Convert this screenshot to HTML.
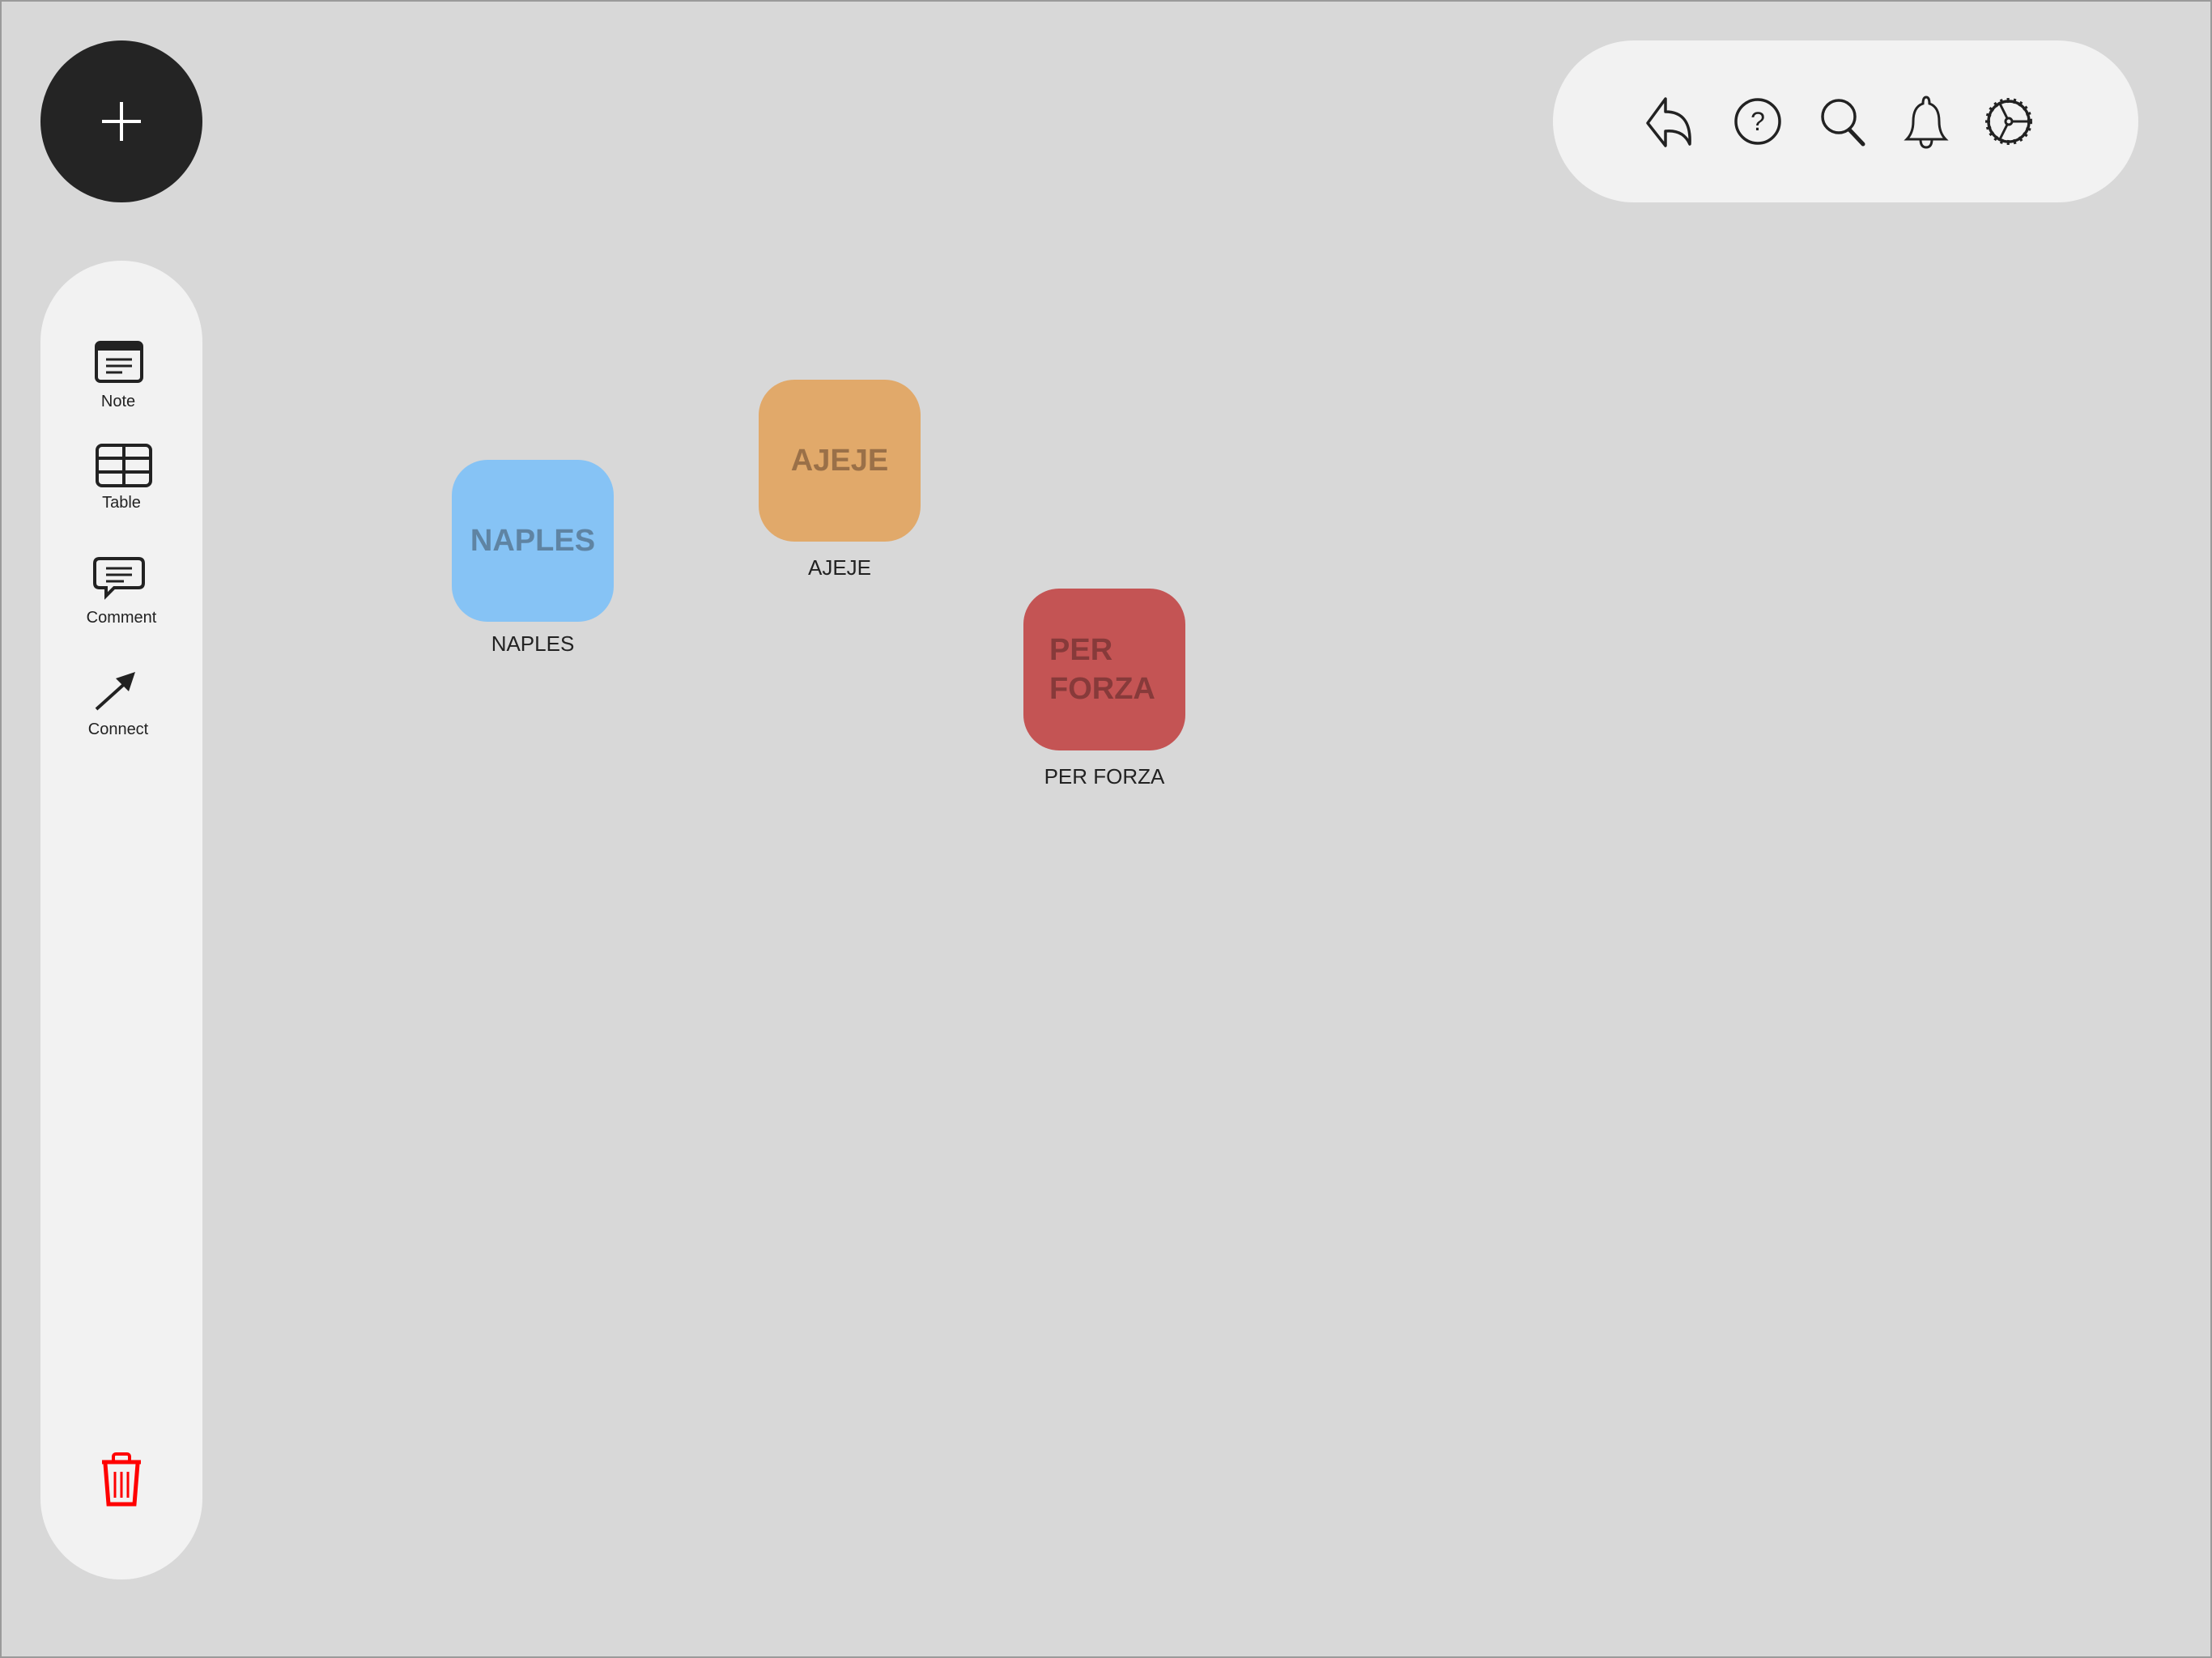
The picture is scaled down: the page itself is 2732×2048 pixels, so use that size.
<!DOCTYPE html>
<html><head><meta charset="utf-8"><style>
html,body{margin:0;padding:0}
body{width:2732px;height:2048px;background:#d8d8d8;position:relative;overflow:hidden;font-family:"Liberation Sans",sans-serif}
.frame{position:absolute;left:0;top:0;width:2732px;height:2048px;box-sizing:border-box;border:2px solid #9a9a9a;pointer-events:none}
.abs{position:absolute}
.plus{left:50px;top:50px;width:200px;height:200px;border-radius:50%;background:#242424}
.side{left:50px;top:322px;width:200px;height:1629px;border-radius:100px;background:#f2f2f2}
.top{left:1918px;top:50px;width:723px;height:200px;border-radius:100px;background:#f2f2f2}
.box{width:200px;height:200px;border-radius:44px;display:flex;align-items:center;font-weight:900;font-size:38px;letter-spacing:0px;font-family:"Liberation Sans",sans-serif}
.lbl{font-size:26px;color:#222;text-align:center;width:300px}
.sl{font-size:20px;color:#222;text-align:center;width:160px;left:66px}
</style></head><body>
<div class="abs plus"></div>
<svg class="abs" style="left:100px;top:100px" width="100" height="100"><path d="M50 26V74M26 50H74" stroke="#fff" stroke-width="4"/></svg>
<div class="abs side"></div>
<div class="abs top"></div>

<svg class="abs" style="left:111px;top:418px" width="72" height="60"><rect x="8" y="5" width="56" height="48" rx="5" fill="none" stroke="#222" stroke-width="4"/><rect x="8" y="5" width="56" height="10" fill="#222"/><path d="M20 26H52M20 34H52M20 42H40" stroke="#222" stroke-width="3"/></svg>
<div class="abs sl" style="top:485px">Note</div>
<svg class="abs" style="left:114px;top:544px" width="80" height="60"><rect x="6" y="6" width="66" height="50" rx="6" fill="none" stroke="#222" stroke-width="4"/><path d="M6 22H72M6 39H72M39 6V56" stroke="#222" stroke-width="4"/></svg>
<div class="abs sl" style="top:610px;left:70px">Table</div>
<svg class="abs" style="left:111px;top:684px" width="74" height="70"><path d="M12 6H60Q66 6 66 12V36Q66 42 60 42H30L20 52V42H12Q6 42 6 36V12Q6 6 12 6Z" fill="none" stroke="#222" stroke-width="4"/><path d="M20 18H52M20 26H52M20 34H42" stroke="#222" stroke-width="3"/></svg>
<div class="abs sl" style="top:752px;left:70px">Comment</div>
<svg class="abs" style="left:113px;top:822px" width="60" height="60"><path d="M6 54L46 18" stroke="#222" stroke-width="4"/><path d="M54 8L30 16L46 32Z" fill="#222"/></svg>
<div class="abs sl" style="top:890px">Connect</div>
<svg class="abs" style="left:118px;top:1792px" width="64" height="72"><path d="M8 14H56" stroke="#f00" stroke-width="5"/><rect x="22" y="4" width="20" height="10" rx="3" fill="none" stroke="#f00" stroke-width="4"/><path d="M12 16L16 66H48L52 16" fill="none" stroke="#f00" stroke-width="5"/><path d="M24 26V58M32 26V58M40 26V58" stroke="#f00" stroke-width="3"/></svg>

<svg class="abs" style="left:2029px;top:118px" width="68" height="64"><path d="M28 4L6 34L28 62V44Q50 42 58 60Q60 20 28 20Z" fill="none" stroke="#222" stroke-width="3.5" stroke-linejoin="round"/></svg>
<svg class="abs" style="left:2139px;top:118px" width="64" height="64"><circle cx="32" cy="32" r="27" fill="none" stroke="#222" stroke-width="3.5"/><text x="32" y="43" font-size="32" text-anchor="middle" font-family="Liberation Sans" fill="#222">?</text></svg>
<svg class="abs" style="left:2245px;top:118px" width="70" height="66"><circle cx="26" cy="26" r="20" fill="none" stroke="#222" stroke-width="3.5"/><path d="M39 42L56 60" stroke="#222" stroke-width="5" stroke-linecap="round"/></svg>
<svg class="abs" style="left:2347px;top:116px" width="64" height="68"><path d="M32 4Q28 4 28 12Q16 16 16 34Q16 48 8 56H56Q48 48 48 34Q48 16 36 12Q36 4 32 4Z" fill="none" stroke="#222" stroke-width="3"/><path d="M25 56Q25 66 32 66Q39 66 39 56" fill="none" stroke="#222" stroke-width="3"/></svg>
<svg class="abs" style="left:2447px;top:116px" width="68" height="68"><circle cx="34" cy="34" r="26" fill="none" stroke="#222" stroke-width="6" stroke-dasharray="3 5"/><circle cx="34" cy="34" r="25" fill="none" stroke="#222" stroke-width="3.5"/><circle cx="34" cy="34" r="4" fill="none" stroke="#222" stroke-width="3"/><path d="M38 34H60M32 30L22 10M32 38L22 58" stroke="#222" stroke-width="3"/></svg>

<div class="abs box" style="left:558px;top:568px;background:#86c3f5;color:#5f84a3;justify-content:center">NAPLES</div>
<div class="abs lbl" style="left:508px;top:780px">NAPLES</div>
<div class="abs box" style="left:937px;top:469px;background:#e1a96a;color:#9a7048;justify-content:center">AJEJE</div>
<div class="abs lbl" style="left:887px;top:686px">AJEJE</div>
<div class="abs box" style="left:1264px;top:727px;background:#c45454;color:#873a3a;line-height:48px;padding-left:32px;box-sizing:border-box">PER<br>FORZA</div>
<div class="abs lbl" style="left:1214px;top:944px">PER FORZA</div>
<div class="frame"></div>
</body></html>
